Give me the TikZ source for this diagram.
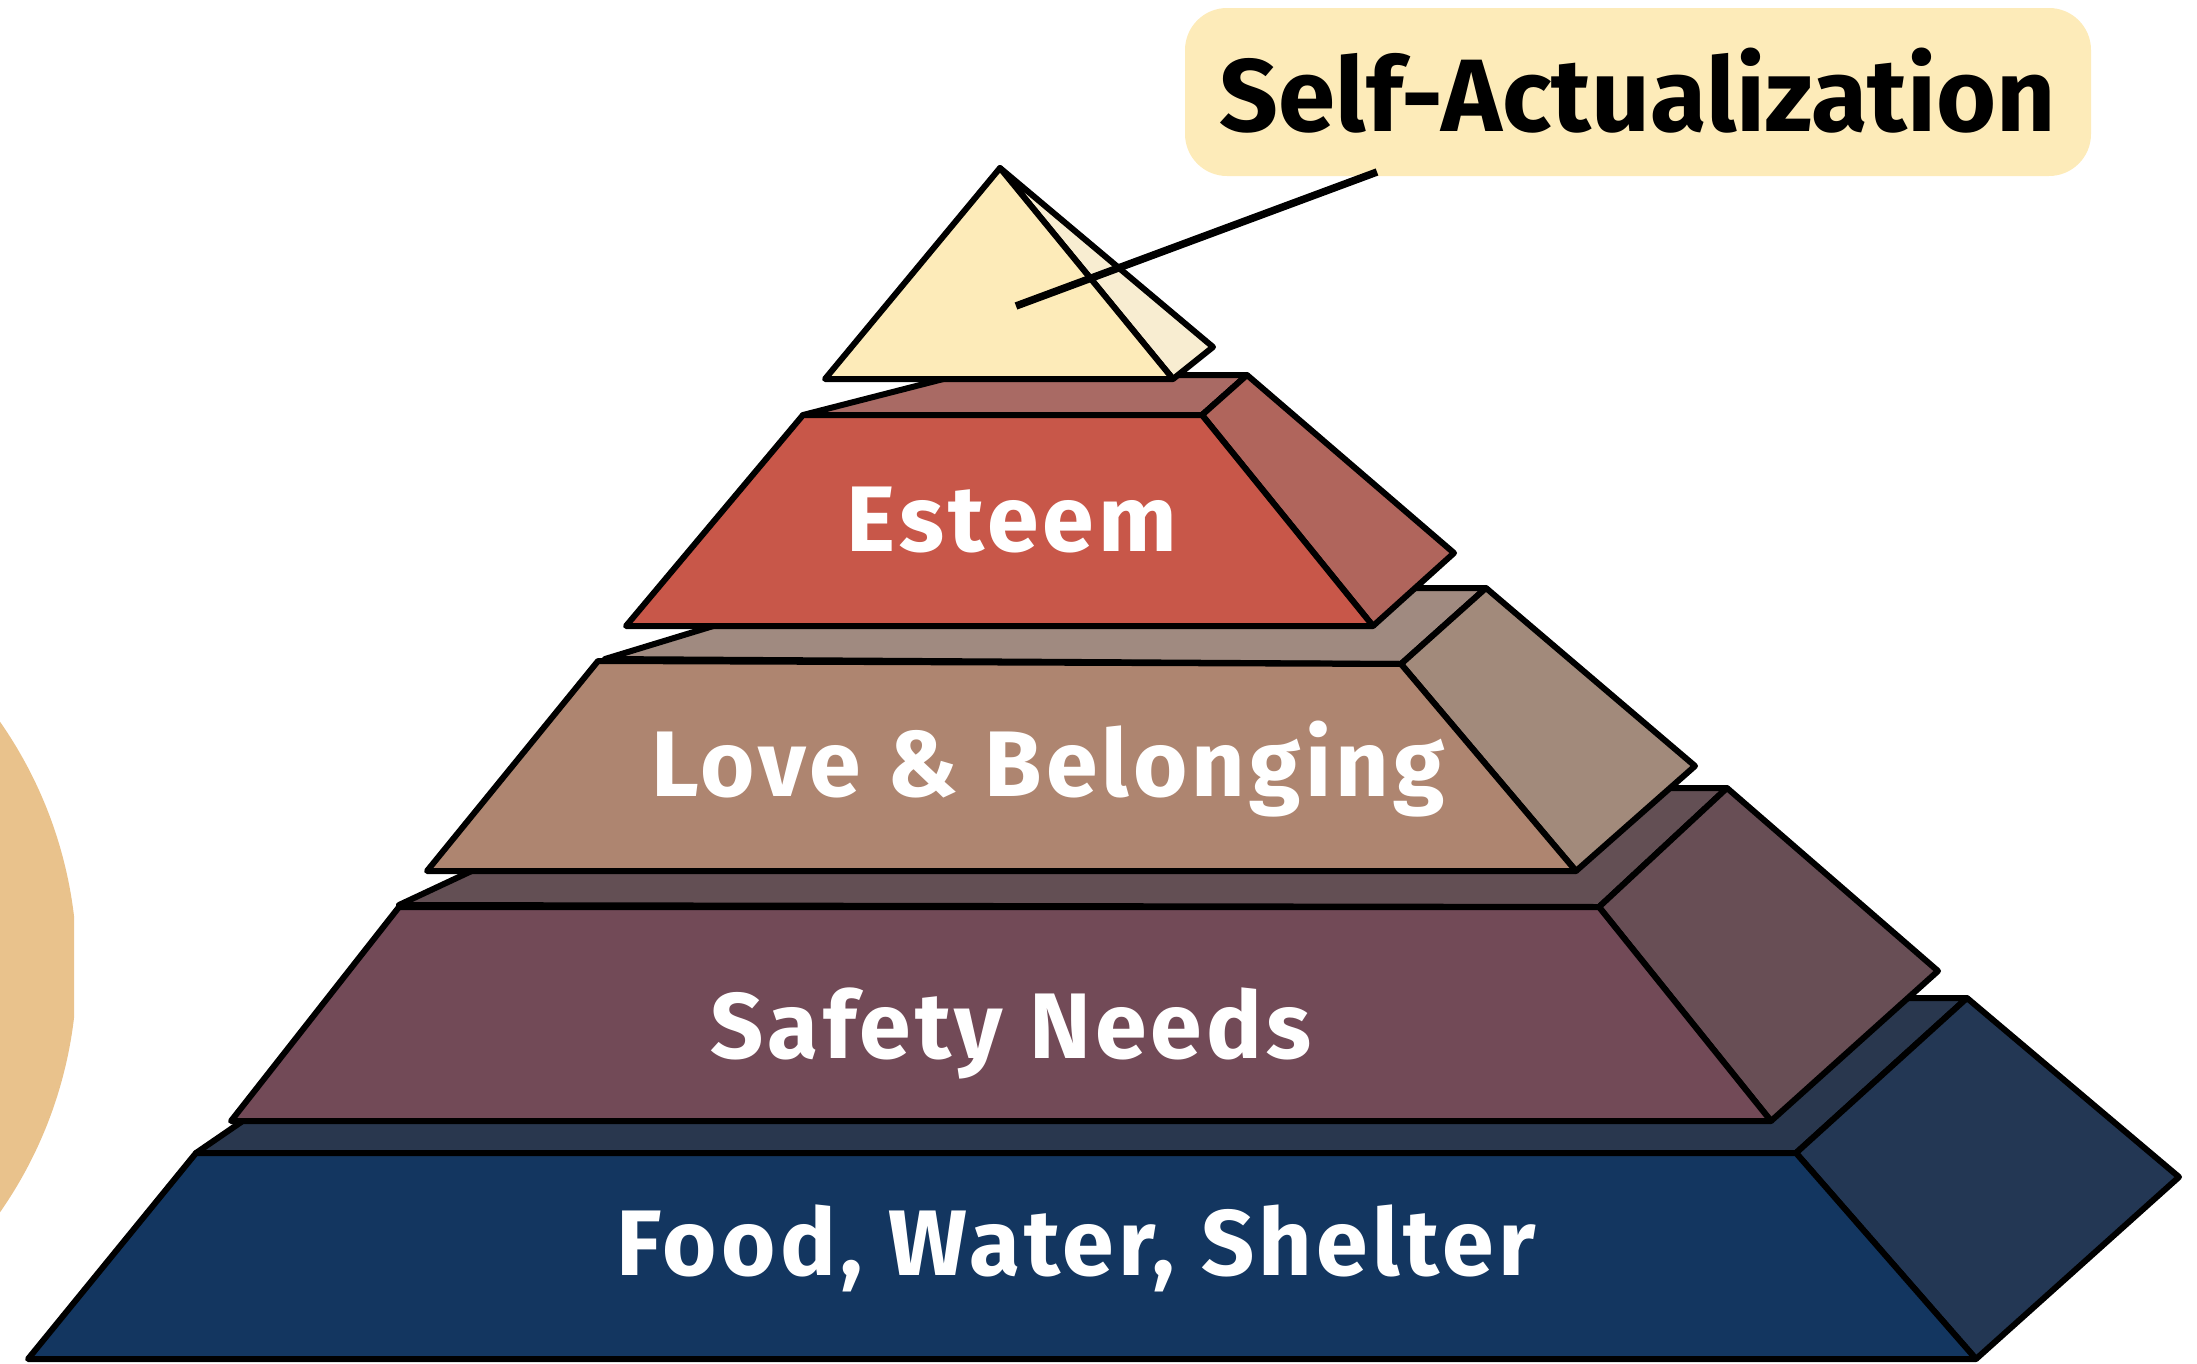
\documentclass[tikz,border=0pt]{standalone}
\usepackage{fontspec}
\setmainfont{Fira Sans}
\definecolor{cream}{HTML}{FDEBB9}
\definecolor{creamside}{HTML}{F8EDD1}
\definecolor{esfront}{HTML}{C85749}
\definecolor{estop}{HTML}{A96A64}
\definecolor{esside}{HTML}{B0655C}
\definecolor{lofront}{HTML}{AE8570}
\definecolor{lotop}{HTML}{A08A80}
\definecolor{loside}{HTML}{A28A7B}
\definecolor{safront}{HTML}{724A57}
\definecolor{satop}{HTML}{634F54}
\definecolor{saside}{HTML}{684E55}
\definecolor{fofront}{HTML}{133660}
\definecolor{fotop}{HTML}{29374E}
\definecolor{foside}{HTML}{233754}
\definecolor{circ}{HTML}{E9C28C}
\tikzset{
  face/.style={draw=black, line width=0.6mm, line join=round},
  lvltext/.style={text=white, font=\bfseries\fontsize{26.5pt}{30pt}\selectfont\addfontfeature{LetterSpace=4.5}, anchor=base, inner sep=0pt},
  callout/.style={fill=cream, rounded corners=4.2mm, minimum width=90.6mm, minimum height=16.8mm, inner sep=0pt},
  calltext/.style={anchor=base, inner sep=0pt, font=\bfseries\fontsize{29.3pt}{32pt}\selectfont},
  leader/.style={draw=black, line width=0.75mm}
}
\begin{document}
\begin{tikzpicture}[x=0.1mm, y=-0.1mm]
\useasboundingbox (0,0) rectangle (2197,1364);
% left decorative circle
\begin{scope}
  \clip (0,0) rectangle (74,1364);
  \fill[circ] (-352,967) circle (429);
\end{scope}
% Level 1: Food, Water, Shelter
\filldraw[face, fill=fotop] (196,1153) -- (422,998) -- (1967,998) -- (1796,1153) -- cycle;
\filldraw[face, fill=foside] (1796,1153) -- (1967,998) -- (2179,1177) -- (1976,1359) -- cycle;
\filldraw[face, fill=fofront] (196,1153) -- (1796,1153) -- (1976,1359) -- (28,1359) -- cycle;
% Level 2: Safety Needs
\filldraw[face, fill=satop] (399,905) -- (649,788) -- (1727,788) -- (1599,907) -- cycle;
\filldraw[face, fill=saside] (1599,907) -- (1727,788) -- (1938,971) -- (1771,1121) -- cycle;
\filldraw[face, fill=safront] (399,907) -- (1599,907) -- (1771,1121) -- (231,1121) -- cycle;
% Level 3: Love & Belonging
\filldraw[face, fill=lotop] (605,659) -- (838,588) -- (1486,588) -- (1401,664) -- cycle;
\filldraw[face, fill=loside] (1401,664) -- (1486,588) -- (1695,766) -- (1576,871) -- cycle;
\filldraw[face, fill=lofront] (598,661) -- (1401,664) -- (1576,871) -- (427,871) -- cycle;
% Level 4: Esteem
\filldraw[face, fill=estop] (803,415) -- (959,375) -- (1247,375) -- (1202,415) -- cycle;
\filldraw[face, fill=esside] (1202,415) -- (1247,375) -- (1454,553) -- (1373,626) -- cycle;
\filldraw[face, fill=esfront] (803,415) -- (1202,415) -- (1373,626) -- (626,626) -- cycle;
% Level 5: top pyramid
\filldraw[face, fill=creamside] (1000,168) -- (1213,347) -- (1173,379) -- cycle;
\filldraw[face, fill=cream] (1000,168) -- (1173,379) -- (825,379) -- cycle;
% labels
\node[lvltext] (esteem) at (1012,551) {Esteem};
\node[lvltext] (love) at (1048,796) {Love \& Belonging};
\node[lvltext] (safety) at (1011,1058) {Safety Needs};
\node[lvltext] (food) at (1076,1275) {Food, Water, Shelter};
% callout
\node[callout] (self) at (1638,92) {};
\node[calltext] (selftext) at (1638,131) {Self-Actualization};
\coordinate (tip) at (1016,306);
\coordinate (selfend) at (1377,172);
\draw[leader] (tip) -- (selfend);
\end{tikzpicture}
\end{document}
